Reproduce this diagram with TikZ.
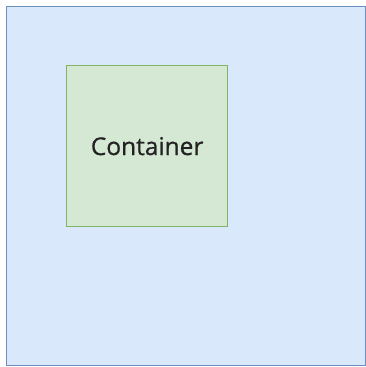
\documentclass[tikz,border=0pt]{standalone}
\usepackage{fontspec}
\setmainfont{Open Sans}
\newfontfamily\labelfont[FakeBold=0.6]{Open Sans}
\definecolor{outerfill}{HTML}{DAE8FC}
\definecolor{outerline}{HTML}{6C8EBF}
\definecolor{innerfill}{HTML}{D5E8D4}
\definecolor{innerline}{HTML}{82B366}
\definecolor{labeltext}{HTML}{222222}
\begin{document}
\begin{tikzpicture}[x=1pt,y=-1pt,
  outerbox/.style={draw=outerline,fill=outerfill,line width=1.3pt},
  innerbox/.style={draw=innerline,fill=innerfill,line width=1.3pt},
  boxlabel/.style={text=labeltext,font=\labelfont\fontsize{24.5}{28}\selectfont}]
  \useasboundingbox (0,0) rectangle (366,367);
  \node[outerbox,minimum width=359pt,minimum height=359pt,inner sep=0pt,anchor=north west] (outer) at (5.5,5.5) {};
  \node[innerbox,minimum width=161pt,minimum height=161pt,inner sep=0pt,anchor=north west] (inner) at (66,65) {};
  \node[boxlabel] (label) at (inner.center) {Container};
\end{tikzpicture}
\end{document}
